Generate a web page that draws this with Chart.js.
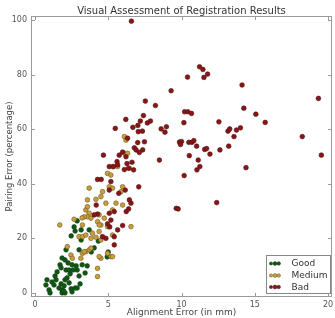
<!DOCTYPE html>
<html>
<head>
<meta charset="utf-8">
<script src="https://cdn.jsdelivr.net/npm/chart.js@4.4.1/dist/chart.umd.min.js"></script>
<style>
html,body{margin:0;padding:0;background:#fff;}
#wrap{position:relative;width:335px;height:318px;}
</style>
</head>
<body>
<div id="wrap"><canvas id="c" width="335" height="318"></canvas></div>
<script>
const chartTitle = "Visual Assessment of Registration Results";
const xAxisTitle = "Alignment Error (in mm)";
const yAxisTitle = "Pairing Error (percentage)";
const seriesNames = ["Good", "Medium", "Bad"];
const xTicks = [0, 5, 10, 15, 20];
const yTicks = [0, 20, 40, 60, 80, 100];

const goodX = [0.75,0.96,1.16,1.37,1.64,1.78,1.85,1.92,1.99,2.05,2.19,2.33,2.40,2.47,2.53,2.60,2.74,2.81,2.88,3.01,3.08,3.22,3.42,3.56,1.51,1.71,1.85,2.05,2.12,2.26,2.47,2.53,2.74,2.88,2.67,3.01,3.15,3.15,3.70,3.84,4.04,4.32,4.93,5.00,1.78,1.44,2.12,2.33,1.30,0.82,1.03,1.85,2.05,2.88,1.95];
const goodY = [2.9,1.1,4.0,6.2,1.8,3.3,1.1,0.4,2.6,4.8,5.5,3.7,7.0,1.5,0.4,8.4,1.8,9.9,8.4,6.2,3.3,10.3,7.3,9.9,7.7,10.3,12.8,12.1,15.8,11.0,20.9,10.3,22.7,26.4,24.2,15.8,23.1,19.4,23.1,15.0,16.5,19.0,13.2,15.0,9.2,4.8,8.4,8.4,2.9,4.8,0.0,0.0,0.0,1.8,0.8];

const mediumX = [3.70,3.58,3.47,3.70,3.58,1.69,2.67,3.24,3.01,3.24,3.47,3.82,4.16,4.38,4.50,4.27,4.50,2.21,2.45,2.55,3.24,3.47,3.70,3.13,4.27,4.27,4.50,5.18,4.84,5.07,4.95,5.29,6.10,6.21,6.10,6.32,5.18,5.64,6.44,4.61,5.29,5.98,5.87,4.16,4.50,3.58,5.53,5.98,5.29,3.36,3.82,4.38,4.73,4.38,3.92,4.95,5.29,6.55,3.36,3.82,4.38,4.95,5.29,3.22];
const mediumY = [38.4,34.1,30.4,29.2,27.9,24.9,27.0,24.9,20.6,20.6,21.2,20.0,20.4,22.5,24.9,26.1,19.4,17.0,13.9,12.7,14.5,15.1,15.8,12.7,9.0,6.0,12.7,13.3,32.9,38.9,43.8,46.3,57.3,56.0,51.2,51.2,43.2,46.3,45.7,37.1,38.4,38.9,37.1,34.3,35.3,31.6,32.9,32.2,30.4,27.9,27.4,28.6,27.4,24.9,21.9,24.3,21.2,24.3,15.1,16.4,13.3,14.5,13.3,27.5];

const badX = [6.58,10.41,9.29,7.53,8.22,7.40,7.19,7.67,7.88,6.20,5.48,6.68,7.02,7.05,7.33,8.61,8.97,8.87,6.32,7.01,7.47,9.86,10.0,10.5,10.71,10.84,11.03,6.78,6.90,7.35,7.12,5.98,5.75,4.67,6.21,8.49,5.60,5.36,6.62,6.28,6.39,6.10,6.73,5.64,5.07,4.27,4.52,5.18,5.07,5.72,6.16,6.44,6.55,7.08,5.07,5.41,6.23,6.39,4.27,4.04,5.18,4.95,5.10,5.98,5.64,4.61,4.84,5.41,5.41,11.23,11.46,11.78,11.53,14.13,14.25,15.07,15.71,19.34,18.24,19.54,14.40,10.21,10.43,10.68,10.16,12.55,13.17,13.29,13.75,14.02,13.58,9.93,11.58,11.71,11.94,12.62,13.22,10.53,11.14,11.25,11.05,10.18,12.40,9.64,9.77,4.18];
const badY = [99.6,79.1,74.1,70.3,68.7,65.0,63.0,62.3,63.0,63.6,60.3,60.7,61.4,59.1,59.3,60.1,60.9,58.9,56.7,55.1,55.4,55.3,55.5,55.2,55.2,55.8,53.8,53.2,52.4,52.4,51.5,51.6,50.5,50.5,49.9,48.7,48.1,46.3,47.9,47.4,45.7,45.2,45.1,46.9,46.3,41.6,41.6,40.8,37.7,36.5,37.7,34.1,32.9,38.9,29.2,29.8,29.8,30.8,28.9,28.6,26.7,25.3,24.2,24.7,23.1,20.6,20.0,20.6,17.6,82.9,81.9,80.2,79.0,76.2,67.7,65.5,62.5,71.3,57.3,50.5,45.9,66.4,66.4,65.8,62.4,62.7,59.3,60.1,59.7,60.5,57.3,54.4,52.6,52.9,50.9,52.4,53.8,50.3,48.7,46.3,45.1,43.0,33.1,31.0,30.8,32.2];

const FONT = "'DejaVu Sans', sans-serif";
const fills = ['#0c5a10', '#c99f3c', '#8c1416'];
const edges = ['#173a17', '#6e5520', '#4a1414'];

function pts(xs, ys) { return xs.map((x, i) => ({x: x, y: ys[i]})); }

const datasets = [
  {label: seriesNames[0], data: pts(goodX, goodY), order: 2},
  {label: seriesNames[1], data: pts(mediumX, mediumY), order: 1},
  {label: seriesNames[2], data: pts(badX, badY), order: 0}
].map((d, i) => Object.assign(d, {
  backgroundColor: fills[i], borderColor: edges[i], borderWidth: 0.6,
  pointRadius: 2.35, pointHoverRadius: 2.35
}));

const frameColor = '#9a9a9a';

const framePlugin = {
  id: 'frame',
  afterDatasetsDraw(chart) {
    const {ctx, chartArea: a, scales} = chart;
    ctx.save();
    ctx.strokeStyle = frameColor;
    ctx.lineWidth = 1;
    ctx.strokeRect(Math.round(a.left) + 0.5, Math.round(a.top) + 0.5, Math.round(a.right - a.left) - 1, Math.round(a.bottom - a.top) - 1);
    ctx.beginPath();
    xTicks.forEach(v => {
      const px = Math.round(scales.x.getPixelForValue(v)) + 0.5;
      ctx.moveTo(px, a.top); ctx.lineTo(px, a.top + 4);
      ctx.moveTo(px, a.bottom); ctx.lineTo(px, a.bottom - 4);
    });
    yTicks.forEach(v => {
      const py = Math.round(scales.y.getPixelForValue(v)) + 0.5;
      ctx.moveTo(a.left, py); ctx.lineTo(a.left + 4, py);
      ctx.moveTo(a.right, py); ctx.lineTo(a.right - 4, py);
    });
    ctx.stroke();
    ctx.restore();
  }
};

const legendPlugin = {
  id: 'innerLegend',
  afterDraw(chart) {
    const {ctx, chartArea: a} = chart;
    const w = 64, h = 38;
    const left = Math.round(a.right - 2 - w) + 0.5;
    const top = Math.round(a.bottom - 4 - h) + 0.5;
    ctx.save();
    ctx.fillStyle = '#fff';
    ctx.fillRect(left, top, w, h);
    ctx.strokeStyle = '#888';
    ctx.lineWidth = 1;
    ctx.strokeRect(left, top, w, h);
    ctx.font = "9px " + FONT;
    ctx.textBaseline = 'middle';
    ctx.textAlign = 'left';
    const rows = [8, 20, 31.5];
    const dx = [4.5, 8.5, 12.2];
    const rr = [1.6, 2.0, 1.8];
    chart.data.datasets.forEach((ds, i) => {
      const cy = top + rows[i];
      for (let k = 0; k < 3; k++) {
        ctx.beginPath();
        ctx.arc(left + dx[k], cy, rr[k], 0, Math.PI * 2);
        ctx.fillStyle = ds.backgroundColor;
        ctx.fill();
        ctx.lineWidth = 0.5;
        ctx.strokeStyle = ds.borderColor;
        ctx.stroke();
      }
      ctx.fillStyle = '#333';
      ctx.fillText(ds.label, left + 25, cy + 0.5);
    });
    ctx.restore();
  }
};

new Chart(document.getElementById('c'), {
  type: 'scatter',
  data: {datasets: datasets},
  options: {
    responsive: false,
    animation: false,
    devicePixelRatio: 1,
    layout: {padding: {left: 0, right: 2, top: 0, bottom: 0}},
    plugins: {
      legend: {display: false},
      tooltip: {enabled: false},
      title: {
        display: true, text: chartTitle, fullSize: false,
        color: '#333', font: {family: FONT, size: 10, weight: 'normal', lineHeight: 0.9},
        padding: {top: 7, bottom: 0}
      }
    },
    scales: {
      x: {
        type: 'linear', min: -0.27, max: 20.27,
        border: {display: false},
        grid: {display: false, drawTicks: false},
        afterBuildTicks: s => { s.ticks = xTicks.map(v => ({value: v})); },
        afterFit: s => { s.height = 21; s.paddingLeft = 0; s.paddingRight = 0; },
        ticks: {color: '#555', font: {family: FONT, size: 8}, padding: 3, maxRotation: 0,
          callback: v => String(v)},
        title: {display: true, text: xAxisTitle, color: '#444',
          font: {family: FONT, size: 9}, padding: {top: 0, bottom: 0}}
      },
      y: {
        type: 'linear', min: -1.5, max: 101.5,
        border: {display: false},
        grid: {display: false, drawTicks: false},
        afterBuildTicks: s => { s.ticks = yTicks.map(v => ({value: v})); },
        afterFit: s => { s.width = 31; s.paddingTop = 0; s.paddingBottom = 0; },
        ticks: {color: '#555', font: {family: FONT, size: 8}, padding: 4,
          callback: v => String(v)},
        title: {display: true, text: yAxisTitle, color: '#444',
          font: {family: FONT, size: 8.5}, padding: {top: 5, bottom: 0}}
      }
    }
  },
  plugins: [framePlugin, legendPlugin]
});
</script>
</body>
</html>
